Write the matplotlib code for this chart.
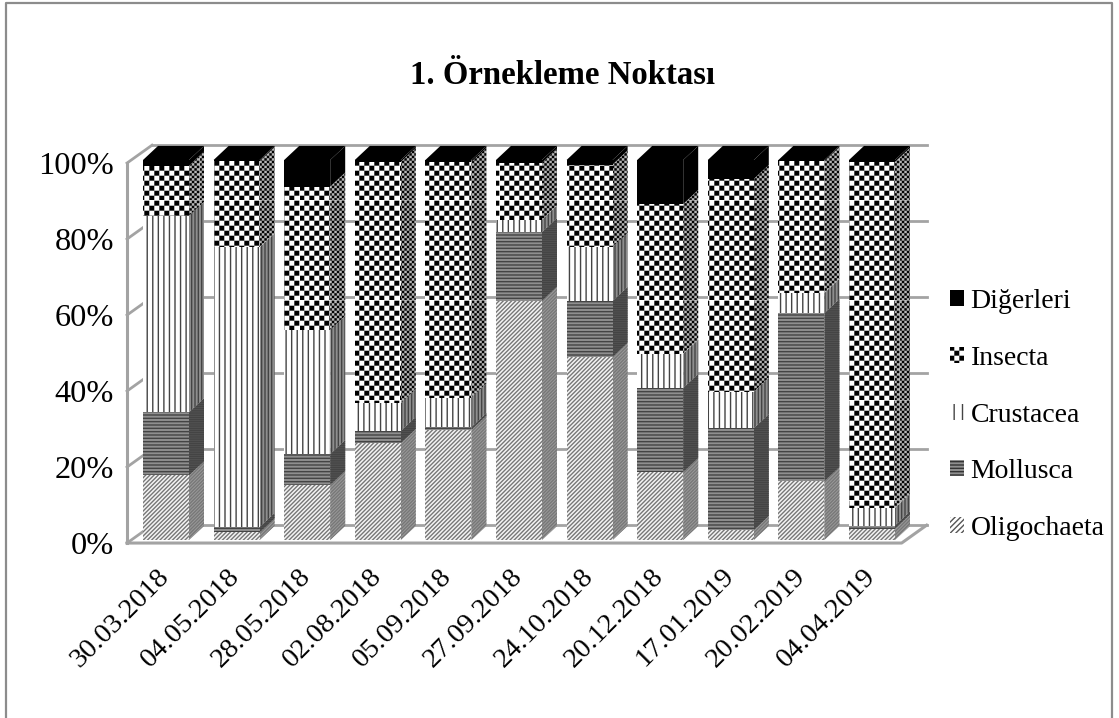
"""
Stacked 3D-look percentage columns, sampling point 1.
"""

import matplotlib
matplotlib.use("Agg")
import matplotlib.pyplot as plt
import matplotlib.hatch as mhatch
import numpy as np
from matplotlib.patches import Patch, Polygon, Rectangle
from matplotlib.path import Path
from matplotlib.transforms import ScaledTranslation

dates = ["30.03.2018", "04.05.2018", "28.05.2018", "02.08.2018", "05.09.2018", "27.09.2018",
         "24.10.2018", "20.12.2018", "17.01.2019", "20.02.2019", "04.04.2019"]
oligochaeta = [17.0, 2.0, 14.5, 25.5, 29.0, 63.0, 48.2, 17.9, 2.6, 15.5, 3.0]
mollusca = [16.6, 1.4, 8.1, 3.2, 0.7, 18.0, 14.7, 22.1, 26.8, 44.2, 0.8]
crustacea = [51.7, 73.6, 32.7, 7.3, 7.8, 3.3, 14.2, 9.0, 9.6, 5.3, 4.6]
insecta = [13.2, 22.7, 37.7, 63.5, 62.0, 15.0, 21.7, 39.4, 56.0, 34.7, 91.1]
digerleri = [1.5, 0.3, 7.0, 0.5, 0.5, 0.7, 1.2, 11.6, 5.0, 0.3, 0.5]
series_names = ["Oligochaeta", "Mollusca", "Crustacea", "Insecta", "Diğerleri"]
yticks = [0, 20, 40, 60, 80, 100]


class Checker(mhatch.HatchPatternBase):
    """Staggered filled squares, takes over the '*' hatch character."""
    filled = True

    def __init__(self, hatch, density):
        self.n = hatch.count('*') * 10
        self.num_vertices = self.n * self.n * 2 * 5
        self.num_lines = 0

    def set_vertices_and_codes(self, vertices, codes):
        n = self.n
        side = 0.5 / n
        # the hatch line width also strokes the square, so leave room for it
        size = max(side - 0.014, 0.002)
        square = np.array([[0, 0], [0, 1], [1, 1], [1, 0], [0, 0]]) * size
        sq_codes = [Path.MOVETO, Path.LINETO, Path.LINETO, Path.LINETO, Path.CLOSEPOLY]
        k = 0
        for r in range(2 * n):
            for c in range(n):
                vertices[k:k + 5] = square + [c / n + (r % 2) * side, r * side]
                codes[k:k + 5] = sq_codes
                k += 5


mhatch._hatch_types = [h for h in mhatch._hatch_types if h is not mhatch.Stars] + [Checker]

plt.rcParams['font.family'] = ['Liberation Serif', 'DejaVu Serif']
plt.rcParams['hatch.linewidth'] = 1.0

fig = plt.figure(figsize=(11.19, 7.18), dpi=100)
W, H = 1119, 718
# plot box in pixels of the picture: columns' front plane
step = 70.6
ax = fig.add_axes([(166 - step / 2) / W, (H - 540) / H, step * 11 / W, 380 / H])
x = np.arange(len(dates))
ax.set_xlim(-0.5, 10.5)
ax.set_ylim(0, 100)
for s in ax.spines.values():
    s.set_visible(False)

grid_col = '#a3a3a3'
wall_l, wall_r = -0.552, 10.42
wall_dx, wall_dy = 0.354, 4.7
base = -0.8

# walls and floor
for v in yticks:
    ax.plot([wall_l + wall_dx, wall_r + wall_dx], [v + base + wall_dy] * 2, color=grid_col, lw=2, clip_on=False, zorder=1)
    ax.plot([wall_l, wall_l + wall_dx], [v + base, v + base + wall_dy], color=grid_col, lw=2, clip_on=False, zorder=1)
ax.plot([wall_l, wall_l], [base, 100 + base], color=grid_col, lw=2.2, clip_on=False, zorder=1)
ax.plot([wall_l, wall_r, wall_r + wall_dx], [base, base, base + wall_dy], color=grid_col, lw=2.2, clip_on=False, zorder=1)

# front colour, hatch colour, front hatch, side hatch, side colour
styles = [('#f4f4f4', '#777777', '////////', '//////////', '#9a9a9a'),
          ('#8f8f8f', '#444444', '-----', '---------', '#5e5e5e'),
          ('white', '#444444', '|||', '|||||', '#8e8e8e'),
          ('white', 'black', '*', '**', '#b8b8b8'),
          ('black', 'black', '', '', 'black')]
bar_w = 46 / step
dx, dy = 15 / step, 3.7

values = [oligochaeta, mollusca, crustacea, insecta, digerleri]
bottom = np.zeros(len(dates))
for vals, (front_col, hatch_col, h_front, h_side, side_col), name in zip(values, styles, series_names):
    vals = np.array(vals)
    for xi, b, v in zip(x, bottom, vals):
        x0 = xi - bar_w / 2
        x1 = xi + bar_w / 2
        t = b + v
        ax.add_patch(Polygon([[x1, b], [x1 + dx, b + dy], [x1 + dx, t + dy], [x1, t]], facecolor=side_col,
                             edgecolor=hatch_col, hatch=h_side, lw=0, clip_on=False, zorder=3))
        ax.add_patch(Rectangle((x0, b), bar_w, v, facecolor=front_col, edgecolor=hatch_col, hatch=h_front,
                               lw=0, clip_on=False, zorder=4))
        if name == "Diğerleri":
            ax.add_patch(Polygon([[x0, t], [x0 + dx, t + dy], [x1 + dx, t + dy], [x1, t]], facecolor='black',
                                 edgecolor='black', lw=0, clip_on=False, zorder=4))
    bottom = bottom + vals

ax.set_yticks(yticks)
ax.set_yticklabels([f"{v}%" for v in yticks], fontsize=23.3)
ax.set_xticks(x)
ax.set_xticklabels(dates, fontsize=20.5, rotation=45, ha='right', rotation_mode='anchor')
ax.tick_params(axis='y', length=0, pad=12)
ax.tick_params(axis='x', length=0, pad=17)
for lab in ax.get_yticklabels():
    lab.set_transform(lab.get_transform() + ScaledTranslation(0, -0.03, fig.dpi_scale_trans))
for lab in ax.get_xticklabels():
    lab.set_transform(lab.get_transform() + ScaledTranslation(-0.09, 0, fig.dpi_scale_trans))

fig.text(563 / W, (H - 75) / H, "1. Örnekleme Noktası", fontsize=23.6, fontweight='bold', ha='center', va='center')

handles = [Patch(facecolor='black', edgecolor='black', lw=0),
           Patch(facecolor='white', edgecolor='black', hatch='*', lw=0),
           Patch(facecolor='white', edgecolor='#444444', hatch='||', lw=0),
           Patch(facecolor='#8f8f8f', edgecolor='#333333', hatch='-----', lw=0),
           Patch(facecolor='white', edgecolor='#555555', hatch='//////', lw=0)]
fig.legend(handles, series_names[::-1], loc='center left', bbox_to_anchor=(950 / W, (H - 415) / H), frameon=False,
           fontsize=20, handlelength=0.52, handleheight=0.52, handletextpad=0.22, labelspacing=1.14, borderpad=0, borderaxespad=0)

# outer chart border, the bottom edge is cut off
border_x = [6 / W, 6 / W, 1112 / W, 1112 / W]
border_y = [0, (H - 3) / H, (H - 3) / H, 0]
fig.add_artist(plt.Line2D(border_x, border_y, transform=fig.transFigure, color='#8c8c8c', lw=1.6))

fig.savefig("out.png", dpi=100)
